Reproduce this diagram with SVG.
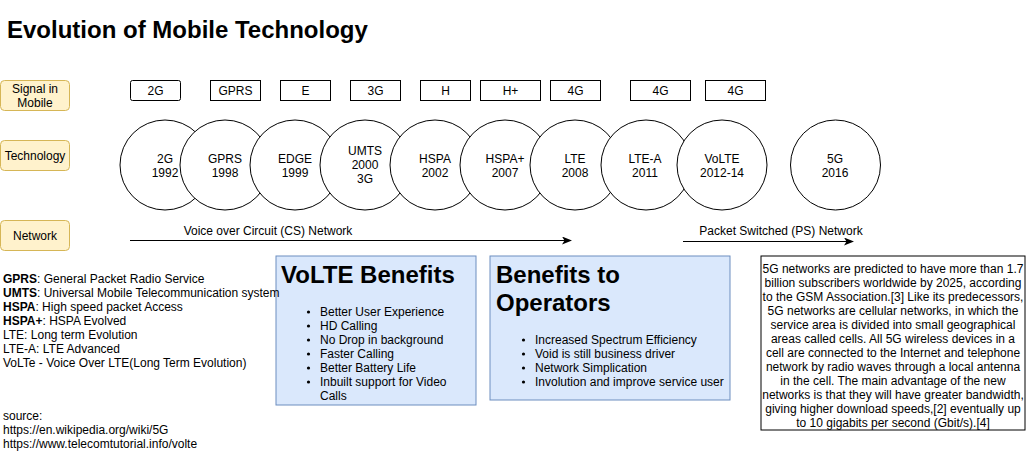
<svg xmlns="http://www.w3.org/2000/svg" width="1026" height="471" viewBox="0 0 1026 471">
<defs>
<marker id="arr" markerWidth="10" markerHeight="8" refX="8" refY="4" orient="auto" markerUnits="userSpaceOnUse">
<path d="M0,0 L10,4 L0,8 L2.5,4 Z" fill="#000"/>
</marker>
</defs>
<style>
text{font-family:"Liberation Sans",Arial,Helvetica,sans-serif;fill:#000;}
.t12{font-size:12px;}
.c{text-anchor:middle;}
.lab{fill:#fff2cc;stroke:#d6b656;stroke-width:1;}
.sig{fill:#fff;stroke:#000;stroke-width:1;}
.circ{fill:#fff;stroke:#000;stroke-width:1;}
.blue{fill:#dae8fc;stroke:#6c8ebf;stroke-width:1;}
.h{font-size:24px;font-weight:bold;}
.b{font-weight:bold;}
</style>
<rect width="1026" height="471" fill="#fff"/>
<text x="7" y="38" style="font-size:24px;font-weight:bold">Evolution of Mobile Technology</text>

<g id="label-signal"><rect class="lab" x="0.5" y="80.5" width="69" height="30" rx="4"/><text class="t12 c" x="35" y="93">Signal in</text><text class="t12 c" x="35" y="107">Mobile</text></g>
<g id="label-technology"><rect class="lab" x="0.5" y="140.5" width="69" height="30" rx="4"/><text class="t12 c" x="35" y="160">Technology</text></g>
<g id="label-network"><rect class="lab" x="0.5" y="220.5" width="69" height="30" rx="4"/><text class="t12 c" x="35" y="240">Network</text></g>

<g id="sig-2g"><rect class="sig" x="130.5" y="80.5" width="50" height="20" rx="2"/><text class="t12 c" x="155.5" y="95">2G</text></g>
<g id="sig-gprs"><rect class="sig" x="210.5" y="80.5" width="50" height="20"/><text class="t12 c" x="235.5" y="95">GPRS</text></g>
<g id="sig-e"><rect class="sig" x="280.5" y="80.5" width="50" height="20"/><text class="t12 c" x="305.5" y="95">E</text></g>
<g id="sig-3g"><rect class="sig" x="350.5" y="80.5" width="50" height="20"/><text class="t12 c" x="375.5" y="95">3G</text></g>
<g id="sig-h"><rect class="sig" x="420.5" y="80.5" width="50" height="20"/><text class="t12 c" x="445.5" y="95">H</text></g>
<g id="sig-hplus"><rect class="sig" x="480.5" y="80.5" width="60" height="20"/><text class="t12 c" x="510.5" y="95">H+</text></g>
<g id="sig-4g-1"><rect class="sig" x="550.5" y="80.5" width="50" height="20"/><text class="t12 c" x="575.5" y="95">4G</text></g>
<g id="sig-4g-2"><rect class="sig" x="630.5" y="80.5" width="60" height="20"/><text class="t12 c" x="660.5" y="95">4G</text></g>
<g id="sig-4g-3"><rect class="sig" x="705.5" y="80.5" width="60" height="20"/><text class="t12 c" x="735.5" y="95">4G</text></g>

<g id="tech-2g"><circle class="circ" cx="165" cy="165" r="45"/><text class="t12 c" x="165" y="163">2G</text><text class="t12 c" x="165" y="177">1992</text></g>
<g id="tech-gprs"><circle class="circ" cx="225" cy="165" r="45"/><text class="t12 c" x="225" y="163">GPRS</text><text class="t12 c" x="225" y="177">1998</text></g>
<g id="tech-edge"><circle class="circ" cx="295" cy="165" r="45"/><text class="t12 c" x="295" y="163">EDGE</text><text class="t12 c" x="295" y="177">1999</text></g>
<g id="tech-umts"><circle class="circ" cx="365" cy="165" r="45"/><text class="t12 c" x="365" y="155">UMTS</text><text class="t12 c" x="365" y="169">2000</text><text class="t12 c" x="365" y="183">3G</text></g>
<g id="tech-hspa"><circle class="circ" cx="435" cy="165" r="45"/><text class="t12 c" x="435" y="163">HSPA</text><text class="t12 c" x="435" y="177">2002</text></g>
<g id="tech-hspaplus"><circle class="circ" cx="505" cy="165" r="45"/><text class="t12 c" x="505" y="163">HSPA+</text><text class="t12 c" x="505" y="177">2007</text></g>
<g id="tech-lte"><circle class="circ" cx="575" cy="165" r="45"/><text class="t12 c" x="575" y="163">LTE</text><text class="t12 c" x="575" y="177">2008</text></g>
<g id="tech-ltea"><circle class="circ" cx="646" cy="165" r="45"/><text class="t12 c" x="645" y="163">LTE-A</text><text class="t12 c" x="645" y="177">2011</text></g>
<g id="tech-volte"><circle class="circ" cx="722" cy="165" r="45"/><text class="t12 c" x="722" y="163">VoLTE</text><text class="t12 c" x="722" y="177">2012-14</text></g>
<g id="tech-5g"><circle class="circ" cx="835.5" cy="165" r="45"/><text class="t12 c" x="835" y="163">5G</text><text class="t12 c" x="835" y="177">2016</text></g>

<g id="connectors">
<line x1="130" y1="240.5" x2="570" y2="240.5" stroke="#000" stroke-width="1" marker-end="url(#arr)"/>
<line x1="683" y1="241.5" x2="852" y2="241.5" stroke="#000" stroke-width="1" marker-end="url(#arr)"/>
</g>
<text class="t12 c" x="268" y="235">Voice over Circuit (CS) Network</text>
<text class="t12 c" x="781" y="235">Packet Switched (PS) Network</text>

<g id="volte-benefits">
<rect class="blue" x="276" y="256" width="200" height="149"/>
<text class="h" x="281" y="283">VoLTE Benefits</text>
<circle cx="308.5" cy="312" r="1.6"/><text class="t12" x="320" y="316">Better User Experience</text>
<circle cx="308.5" cy="326" r="1.6"/><text class="t12" x="320" y="330">HD Calling</text>
<circle cx="308.5" cy="340" r="1.6"/><text class="t12" x="320" y="344">No Drop in background</text>
<circle cx="308.5" cy="354" r="1.6"/><text class="t12" x="320" y="358">Faster Calling</text>
<circle cx="308.5" cy="368" r="1.6"/><text class="t12" x="320" y="372">Better Battery Life</text>
<circle cx="308.5" cy="382" r="1.6"/><text class="t12" x="320" y="386">Inbuilt support for Video</text>
<text class="t12" x="320" y="400">Calls</text>
</g>

<g id="operator-benefits">
<rect class="blue" x="490" y="256" width="240" height="144"/>
<text class="h" x="496" y="283">Benefits to</text>
<text class="h" x="496" y="311">Operators</text>
<circle cx="523.5" cy="340" r="1.6"/><text class="t12" x="535" y="344">Increased Spectrum Efficiency</text>
<circle cx="523.5" cy="354" r="1.6"/><text class="t12" x="535" y="358">Void is still business driver</text>
<circle cx="523.5" cy="368" r="1.6"/><text class="t12" x="535" y="372">Network Simplication</text>
<circle cx="523.5" cy="382" r="1.6"/><text class="t12" x="535" y="386">Involution and improve service user</text>
</g>

<g id="glossary">
<text class="t12" x="3" y="283"><tspan class="b">GPRS</tspan>: General Packet Radio Service</text>
<text class="t12" x="3" y="297"><tspan class="b">UMTS</tspan>: Universal Mobile Telecommunication system</text>
<text class="t12" x="3" y="311"><tspan class="b">HSPA</tspan>: High speed packet Access</text>
<text class="t12" x="3" y="325"><tspan class="b">HSPA+</tspan>: HSPA Evolved</text>
<text class="t12" x="3" y="339">LTE: Long term Evolution</text>
<text class="t12" x="3" y="353">LTE-A: LTE Advanced</text>
<text class="t12" x="3" y="367">VoLTe - Voice Over LTE(Long Term Evolution)</text>
<text class="t12" x="3" y="420">source:</text>
<text class="t12" x="3" y="434">https://en.wikipedia.org/wiki/5G</text>
<text class="t12" x="3" y="448">https://www.telecomtutorial.info/volte</text>
</g>

<g id="fiveg-info">
<rect x="761" y="256" width="264" height="174" fill="#fff" stroke="#000" stroke-width="1"/>
<text class="t12 c" x="893" y="272.5">5G networks are predicted to have more than 1.7</text>
<text class="t12 c" x="893" y="286.5">billion subscribers worldwide by 2025, according</text>
<text class="t12 c" x="893" y="300.5">to the GSM Association.[3] Like its predecessors,</text>
<text class="t12 c" x="893" y="314.5">5G networks are cellular networks, in which the</text>
<text class="t12 c" x="893" y="328.5">service area is divided into small geographical</text>
<text class="t12 c" x="893" y="342.5">areas called cells. All 5G wireless devices in a</text>
<text class="t12 c" x="893" y="356.5">cell are connected to the Internet and telephone</text>
<text class="t12 c" x="893" y="370.5">network by radio waves through a local antenna</text>
<text class="t12 c" x="893" y="384.5">in the cell. The main advantage of the new</text>
<text class="t12 c" x="893" y="398.5">networks is that they will have greater bandwidth,</text>
<text class="t12 c" x="893" y="412.5">giving higher download speeds,[2] eventually up</text>
<text class="t12 c" x="893" y="426.5">to 10 gigabits per second (Gbit/s).[4]</text>
</g>
</svg>
